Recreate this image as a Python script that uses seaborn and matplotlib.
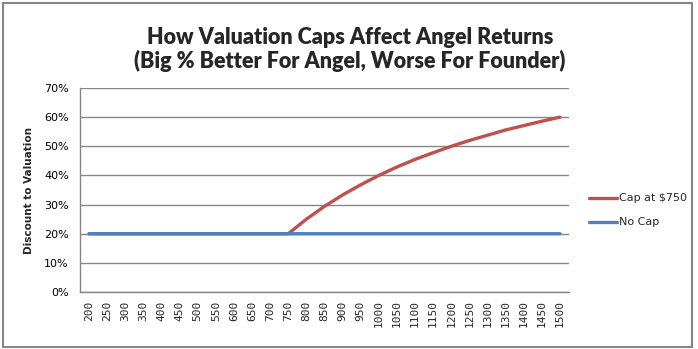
import matplotlib
matplotlib.use("Agg")
import matplotlib.pyplot as plt
from matplotlib.patches import Rectangle
from matplotlib.ticker import PercentFormatter
import seaborn as sns
import pandas as pd

# Pre-money valuation categories ($K)
valuations = [200, 250, 300, 350, 400, 450, 500, 550, 600, 650, 700, 750, 800, 850,
              900, 950, 1000, 1050, 1100, 1150, 1200, 1250, 1300, 1350, 1400, 1450, 1500]

# Effective discount to valuation (%)
cap_at_750 = [20, 20, 20, 20, 20, 20, 20, 20, 20, 20, 20, 20, 25, 29.4,
              33.3, 36.8, 40, 42.9, 45.5, 47.8, 50, 52, 53.8, 55.6, 57.1, 58.6, 60]
no_cap = [20] * len(valuations)

series_names = ["Cap at $750", "No Cap"]
series_colors = ["#C0504D", "#4F81BD"]
series_values = [cap_at_750, no_cap]

sns.set_theme(style="white")
plt.rcParams["font.family"] = ["DejaVu Sans"]

fig = plt.figure(figsize=(6.98, 3.49), dpi=100)
ax = fig.add_axes([80 / 698, 1 - 292 / 349, (569 - 80) / 698, (292 - 88) / 349])

# Draw the capped series first so the flat "No Cap" line sits on top of it
for name, color, vals in zip(series_names, series_colors, series_values):
    df = pd.DataFrame({"pos": range(len(valuations)), "discount": vals})
    sns.lineplot(data=df, x="pos", y="discount", color=color, linewidth=2.4,
                 ax=ax, legend=False)
for z, line in enumerate(ax.lines):
    line.set_snap(False)
    line.set_zorder(3 + z)

ax.set_xlim(-0.5, len(valuations) - 0.5)
ax.set_ylim(0, 70)
ax.set_yticks(range(0, 71, 10))
ax.yaxis.set_major_formatter(PercentFormatter(decimals=0))
ax.set_xticks(range(len(valuations)))
ax.set_xticklabels([str(v) for v in valuations], rotation=90, fontsize=8,
                   family="DejaVu Sans Mono")
ax.tick_params(axis="y", labelsize=8, pad=8, colors="#000000", length=0)
ax.tick_params(axis="x", pad=6, length=0)
ax.grid(axis="y", color="#868686", linewidth=1)
ax.set_axisbelow(True)
for side in ["top", "right"]:
    ax.spines[side].set_visible(False)
for side in ["left", "bottom"]:
    ax.spines[side].set_color("#868686")
    ax.spines[side].set_linewidth(1)

ax.set_xlabel("")
ax.set_ylabel("Discount to Valuation", fontsize=7.5, fontweight="bold")
ax.yaxis.set_label_coords(-0.095, 0.5)

# Legend drawn at the right of the plot area
for name, color, ypix in zip(series_names, series_colors, [198, 222]):
    yf = 1 - ypix / 349
    fig.add_artist(plt.Line2D([589 / 698, 617 / 698], [yf, yf], color=color,
                              linewidth=2.4, transform=fig.transFigure))
    fig.text(619 / 698, yf, name, fontsize=8, va="center", ha="left")

fig.text(350 / 698, 1 - 38 / 349, "How Valuation Caps Affect Angel Returns",
         fontsize=15.5, fontweight="heavy", family="Lato", ha="center", va="center")
fig.text(350 / 698, 1 - 61 / 349, "(Big % Better For Angel, Worse For Founder)",
         fontsize=15.5, fontweight="heavy", family="Lato", ha="center", va="center")

# Chart frame
fig.add_artist(Rectangle((2.5 / 698, 1 - 347 / 349), 689 / 698, 344 / 349,
                         transform=fig.transFigure, fill=False,
                         edgecolor="#868686", linewidth=1.5))

fig.savefig("out.png", dpi=100)
